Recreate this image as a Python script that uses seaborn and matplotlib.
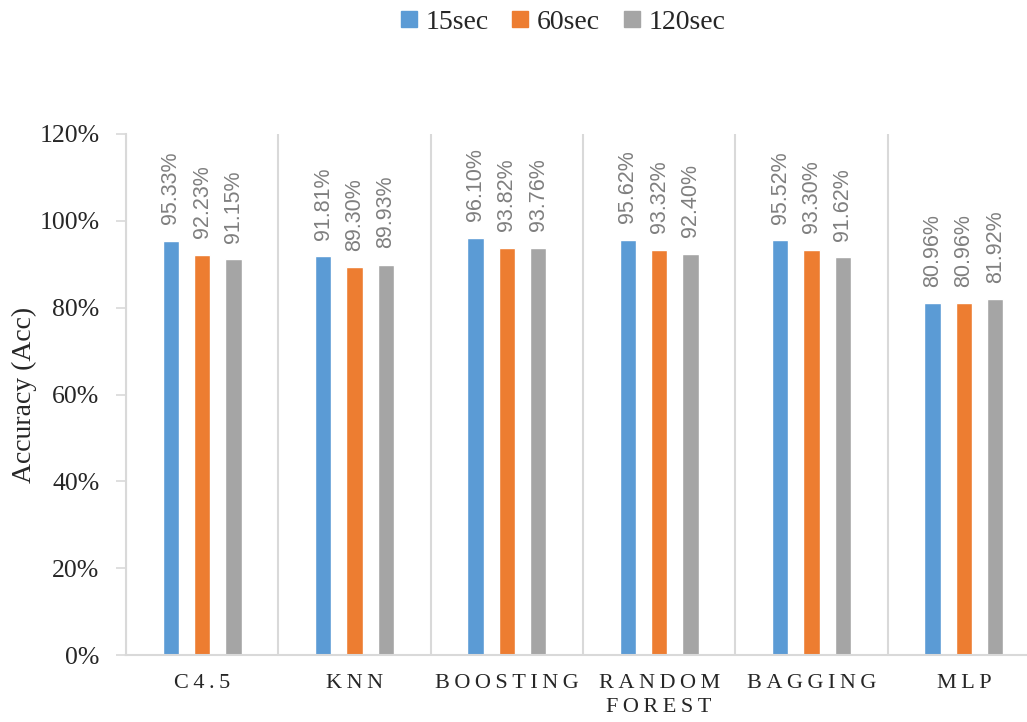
import matplotlib
matplotlib.use("Agg")
import matplotlib.pyplot as plt
from matplotlib.lines import Line2D
import seaborn as sns
import pandas as pd

# Classifier accuracy (%) for three window lengths
categories = ["C4.5", "KNN", "BOOSTING", "RANDOM\nFOREST", "BAGGING", "MLP"]
windows = ["15sec", "60sec", "120sec"]
acc_15 = [95.33, 91.81, 96.10, 95.62, 95.52, 80.96]
acc_60 = [92.23, 89.30, 93.82, 93.32, 93.30, 80.96]
acc_120 = [91.15, 89.93, 93.76, 92.40, 91.62, 81.92]
y_ticks = [0, 20, 40, 60, 80, 100, 120]

colors = ["#5B9BD5", "#ED7D31", "#A5A5A5"]

rows = []
for series, vals in zip(windows, [acc_15, acc_60, acc_120]):
    for cat, v in zip(categories, vals):
        rows.append({"model": cat, "window": series, "acc": v})
df = pd.DataFrame(rows)

sns.set_theme(style="white")
plt.rcParams["font.family"] = ["Liberation Serif", "DejaVu Serif"]

fig = plt.figure(figsize=(10.27, 7.22), dpi=100)
ax = fig.add_axes([126 / 1027, 67 / 722, 914 / 1027, 521 / 722])

sns.barplot(data=df, x="model", y="acc", hue="window", order=categories,
            hue_order=windows, palette=colors, width=0.617, gap=0.47,
            saturation=1, errorbar=None, legend=False, ax=ax)

# value labels above each bar
for cont in ax.containers:
    for bar in cont:
        h = bar.get_height()
        ax.annotate(f"{h:.2f}%", (bar.get_x() + bar.get_width() / 2, h),
                    xytext=(0, 12), textcoords="offset points",
                    rotation=90, ha="center", va="bottom",
                    fontsize=15.5, color="#7F7F7F",
                    family=["Liberation Sans", "DejaVu Sans"])

ax.set_ylim(0, 120)
ax.set_xlim(-0.5, len(categories) - 0.5)
ax.set_yticks(y_ticks)
ax.set_yticklabels([f"{t}%" for t in y_ticks], fontsize=18.5)

# letter-spaced category labels
spaced = ["\u2009".join(list(c)).replace("\u2009\n\u2009", "\n") for c in categories]
ax.set_xticks(range(len(categories)))
ax.set_xticklabels(spaced, fontsize=16, linespacing=1.3)
ax.tick_params(axis="x", length=0, pad=14)
ax.tick_params(axis="y", length=7, width=1.2, color="#D9D9D9",
               direction="out", pad=12, left=True)

# separators between category groups
for b in range(len(categories) + 1):
    ax.axvline(b - 0.5, color="#D9D9D9", lw=1.5, zorder=0)

ax.set_xlabel("")
ax.set_ylabel("Accuracy (Acc)", fontsize=20, labelpad=2)

for side in ["top", "right"]:
    ax.spines[side].set_visible(False)
for side in ["left", "bottom"]:
    ax.spines[side].set_color("#D9D9D9")
    ax.spines[side].set_linewidth(1.5)

handles = [Line2D([], [], marker="s", linestyle="none", markersize=11,
                  markerfacecolor=c, markeredgecolor=c) for c in colors]
fig.legend(handles, windows, loc="center", bbox_to_anchor=(563 / 1027, 1 - 22 / 722),
           ncol=3, frameon=False, fontsize=20, handlelength=0.6,
           handletextpad=0.3, columnspacing=0.85)

fig.savefig("out.png", dpi=100)
